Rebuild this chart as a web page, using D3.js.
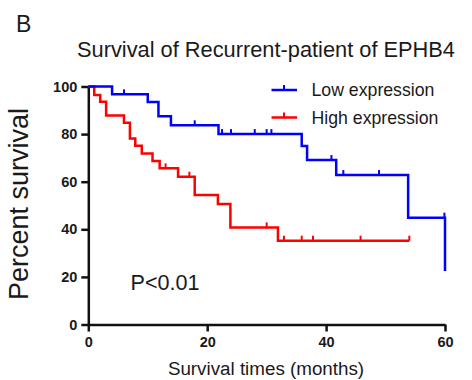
<!DOCTYPE html>
<html>
<head>
<meta charset="utf-8">
<script src="https://cdn.jsdelivr.net/npm/d3@7"></script>
<style>
  body { margin: 0; background: #fff; }
  text { font-family: "Liberation Sans", Arial, sans-serif; fill: #1a1a1a; }
</style>
</head>
<body>
<div id="chart"></div>
<script>
const width = 472
const height = 380

// Low expression (blue) Kaplan-Meier steps
const lowTimes = [0, 4, 10, 11.8, 13.9, 21.9, 35.9, 36.8, 41.7, 53.8, 60]
const lowSurv = [100, 96.7, 93.5, 87.5, 83.7, 80, 75, 69.1, 62.8, 44.9, 22.5]
const lowCensor = [6, 17.9, 22.5, 24, 28, 30, 30.8, 40.9, 42.9, 48.9, 59.9]

// High expression (red)
const highTimes = [0, 1, 2, 3, 6, 7, 7.9, 9, 10.8, 12, 15.1, 17.9, 21.8, 23.9, 31.9, 54]
const highSurv = [100, 96.4, 93.6, 87.8, 84.8, 78.2, 75.1, 71.9, 68.7, 65.6, 62.1, 54.4, 50.6, 40.8, 35.2, 35.2]
const highCensor = [13, 17, 30, 32.9, 35.9, 37.8, 45.8, 54]

const xTicks = [0, 20, 40, 60]
const yTicks = [0, 20, 40, 60, 80, 100]

const blue = "#0000ff"
const red = "#ff0000"

const x = d3.scaleLinear().domain([0, 60]).range([88.3, 445])
const y = d3.scaleLinear().domain([0, 100]).range([324.5, 86.5])

const svg = d3.select("#chart")
  .append("svg")
  .attr("width", width)
  .attr("height", height)

svg.append("rect").attr("width", width).attr("height", height).attr("fill", "#fff")

// panel letter and title
svg.append("text")
  .attr("x", 16).attr("y", 32)
  .attr("font-size", 23)
  .text("B")

svg.append("text")
  .attr("x", 266).attr("y", 57)
  .attr("text-anchor", "middle")
  .attr("font-size", 21.8)
  .text("Survival of Recurrent-patient of EPHB4")

// axes
const xAxis = svg.append("g")
  .attr("transform", `translate(0,${y(0)})`)
  .call(d3.axisBottom(x).tickValues(xTicks).tickSize(7).tickSizeOuter(0).tickPadding(5))

const yAxis = svg.append("g")
  .attr("transform", `translate(${x(0)},0)`)
  .call(d3.axisLeft(y).tickValues(yTicks).tickSize(7).tickSizeOuter(0).tickPadding(4))

for (const ax of [xAxis, yAxis]) {
  ax.selectAll("path, line").attr("stroke", "#111").attr("stroke-width", 2.5)
  ax.selectAll("text")
    .attr("font-size", 14.5)
    .attr("font-weight", "bold")
    .attr("font-family", "'Liberation Sans', Arial, sans-serif")
    .attr("fill", "#111")
}

// axis titles
svg.append("text")
  .attr("x", 266).attr("y", 375)
  .attr("text-anchor", "middle")
  .attr("font-size", 18.8)
  .text("Survival times (months)")

svg.append("text")
  .attr("transform", "translate(28,204) rotate(-90)")
  .attr("text-anchor", "middle")
  .attr("font-size", 27)
  .text("Percent survival")

// survival curves
const line = d3.line()
  .x(d => x(d[0]))
  .y(d => y(d[1]))
  .curve(d3.curveStepAfter)

function levelAt(times, surv, t) {
  let s = surv[0]
  for (let i = 0; i < times.length; i++) {
    if (times[i] <= t) s = surv[i]
  }
  return s
}

function drawCurve(times, surv, censor, color) {
  const pts = times.map((t, i) => [t, surv[i]])
  svg.append("path")
    .attr("d", line(pts))
    .attr("fill", "none")
    .attr("stroke", color)
    .attr("stroke-width", 2.5)

  svg.selectAll(null)
    .data(censor)
    .join("line")
      .attr("x1", d => x(d))
      .attr("x2", d => x(d))
      .attr("y1", d => y(levelAt(times, surv, d)))
      .attr("y2", d => y(levelAt(times, surv, d)) - 5)
      .attr("stroke", color)
      .attr("stroke-width", 2)
}

drawCurve(highTimes, highSurv, highCensor, red)
drawCurve(lowTimes, lowSurv, lowCensor, blue)

// legend
const legend = [
  {name: "Low expression", color: blue, y: 90},
  {name: "High expression", color: red, y: 117.5}
]

const lg = svg.selectAll(".legend")
  .data(legend)
  .join("g")
  .attr("class", "legend")
  .attr("transform", d => `translate(0,${d.y})`)

lg.append("line")
  .attr("x1", 271.5).attr("x2", 297)
  .attr("stroke", d => d.color).attr("stroke-width", 2.5)
lg.append("line")
  .attr("x1", 284).attr("x2", 284).attr("y1", 0).attr("y2", -5)
  .attr("stroke", d => d.color).attr("stroke-width", 2)
lg.append("text")
  .attr("x", 311.5).attr("y", 6.3)
  .attr("font-size", 17.7)
  .text(d => d.name)

// p-value
svg.append("text")
  .attr("x", 130.5).attr("y", 289.5)
  .attr("font-size", 21.6)
  .text("P<0.01")
</script>
</body>
</html>
